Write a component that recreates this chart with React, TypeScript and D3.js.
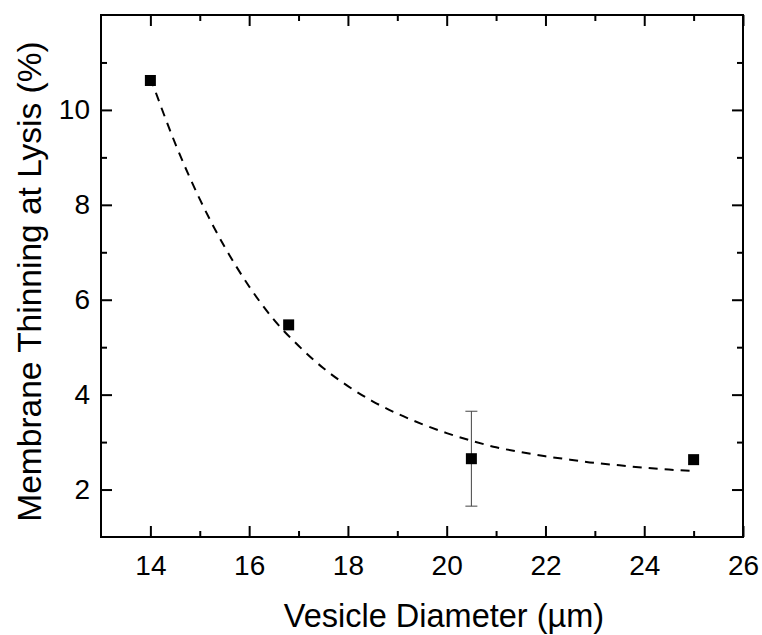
import { useRef, useEffect } from 'react';
import * as d3 from 'd3';

// measured points
const diameters = [14, 16.8, 20.5, 25];
const thinning = [10.62, 5.47, 2.65, 2.63];
const thinningErr = [0, 0, 1.0, 0];

// dashed fit curve
const fitX = [14, 14.5, 15, 15.5, 16, 16.5, 17, 17.5, 18, 18.5, 19, 19.5, 20, 20.5, 21, 21.5, 22, 22.5, 23, 23.5, 24, 24.5, 25];
const fitY = [10.68, 9.3, 8.12, 7.12, 6.28, 5.58, 5.03, 4.56, 4.18, 3.86, 3.6, 3.38, 3.19, 3.03, 2.89, 2.79, 2.7, 2.63, 2.56, 2.51, 2.46, 2.42, 2.39];

const xMajor = [14, 16, 18, 20, 22, 24, 26];
const xMinor = [15, 17, 19, 21, 23, 25];
const yMajor = [2, 4, 6, 8, 10];
const yMinor = [3, 5, 7, 9, 11];

const xTitle = 'Vesicle Diameter (\u00b5m)';
const yTitle = 'Membrane Thinning at Lysis (%)';

const W = 762;
const H = 635;
const margin = { top: 15, right: 19, bottom: 98, left: 101 };
const FONT = '"Liberation Sans", Arial, sans-serif';

export default function App() {
  const svgRef = useRef<SVGSVGElement>(null);

  function renderChart() {
    const svg = d3.select(svgRef.current);
    svg.selectAll('*').remove();

    const x = d3.scaleLinear().domain([13, 26]).range([margin.left, W - margin.right]);
    const y = d3.scaleLinear().domain([1, 12]).range([H - margin.bottom, margin.top]);

    const styleAxis = (g: any) => {
      g.select('.domain').remove();
      g.selectAll('line').attr('stroke', '#000').attr('stroke-width', 2);
      g.selectAll('text').attr('fill', '#000').style('font', `28px ${FONT}`);
    };

    const bottomY = H - margin.bottom;
    const rightX = W - margin.right;

    // bottom
    svg.append('g').attr('transform', `translate(0,${bottomY})`)
      .call(d3.axisBottom(x).tickValues(xMajor).tickSizeInner(-11).tickSizeOuter(0).tickPadding(18).tickFormat(d3.format('d')))
      .call(styleAxis);
    svg.append('g').attr('transform', `translate(0,${bottomY})`)
      .call(d3.axisBottom(x).tickValues(xMinor).tickSizeInner(-6).tickSizeOuter(0).tickFormat(() => ''))
      .call(styleAxis);
    // top
    svg.append('g').attr('transform', `translate(0,${margin.top})`)
      .call(d3.axisTop(x).tickValues(xMajor).tickSizeInner(-11).tickSizeOuter(0).tickFormat(() => ''))
      .call(styleAxis);
    svg.append('g').attr('transform', `translate(0,${margin.top})`)
      .call(d3.axisTop(x).tickValues(xMinor).tickSizeInner(-6).tickSizeOuter(0).tickFormat(() => ''))
      .call(styleAxis);
    // left
    svg.append('g').attr('transform', `translate(${margin.left},0)`)
      .call(d3.axisLeft(y).tickValues(yMajor).tickSizeInner(-11).tickSizeOuter(0).tickPadding(11).tickFormat(d3.format('d')))
      .call(styleAxis);
    svg.append('g').attr('transform', `translate(${margin.left},0)`)
      .call(d3.axisLeft(y).tickValues(yMinor).tickSizeInner(-6).tickSizeOuter(0).tickFormat(() => ''))
      .call(styleAxis);
    // right
    svg.append('g').attr('transform', `translate(${rightX},0)`)
      .call(d3.axisRight(y).tickValues(yMajor).tickSizeInner(-11).tickSizeOuter(0).tickFormat(() => ''))
      .call(styleAxis);
    svg.append('g').attr('transform', `translate(${rightX},0)`)
      .call(d3.axisRight(y).tickValues(yMinor).tickSizeInner(-6).tickSizeOuter(0).tickFormat(() => ''))
      .call(styleAxis);

    // frame
    svg.append('rect')
      .attr('x', margin.left).attr('y', margin.top)
      .attr('width', rightX - margin.left).attr('height', bottomY - margin.top)
      .attr('fill', 'none').attr('stroke', '#000').attr('stroke-width', 2);

    // fit curve
    const line = d3.line<number>().x((d, i) => x(fitX[i])).y(d => y(d)).curve(d3.curveMonotoneX);
    svg.append('path')
      .datum(fitY)
      .attr('d', line)
      .attr('fill', 'none')
      .attr('stroke', '#000')
      .attr('stroke-width', 2)
      .attr('stroke-dasharray', '9,7');

    // error bars
    const errIdx = diameters.map((_, i) => i).filter(i => thinningErr[i] > 0);
    const eb = svg.append('g').attr('stroke', '#444').attr('stroke-width', 1);
    errIdx.forEach(i => {
      const cx = x(diameters[i]);
      const y0 = y(thinning[i] - thinningErr[i]);
      const y1 = y(thinning[i] + thinningErr[i]);
      eb.append('line').attr('x1', cx).attr('x2', cx).attr('y1', y0).attr('y2', y1);
      eb.append('line').attr('x1', cx - 6).attr('x2', cx + 6).attr('y1', y0).attr('y2', y0);
      eb.append('line').attr('x1', cx - 6).attr('x2', cx + 6).attr('y1', y1).attr('y2', y1);
    });

    // markers
    const s = 11;
    svg.append('g')
      .selectAll('rect')
      .data(diameters)
      .join('rect')
      .attr('x', d => x(d) - s / 2)
      .attr('y', (d, i) => y(thinning[i]) - s / 2)
      .attr('width', s)
      .attr('height', s)
      .attr('fill', '#000');

    // titles
    svg.append('text')
      .attr('x', 444)
      .attr('y', 627)
      .attr('text-anchor', 'middle')
      .style('font', `32.5px ${FONT}`)
      .text(xTitle);

    svg.append('text')
      .attr('transform', `translate(41,281.5) rotate(-90)`)
      .attr('text-anchor', 'middle')
      .style('font', `33.5px ${FONT}`)
      .text(yTitle);
  }

  useEffect(() => {
    renderChart();
    // eslint-disable-next-line react-hooks/exhaustive-deps
  }, []);

  return (
    <div style={{ position: 'absolute', left: 0, top: 0 }}>
      <svg ref={svgRef} width={W} height={H} style={{ display: 'block', background: '#fff' }} />
    </div>
  );
}
